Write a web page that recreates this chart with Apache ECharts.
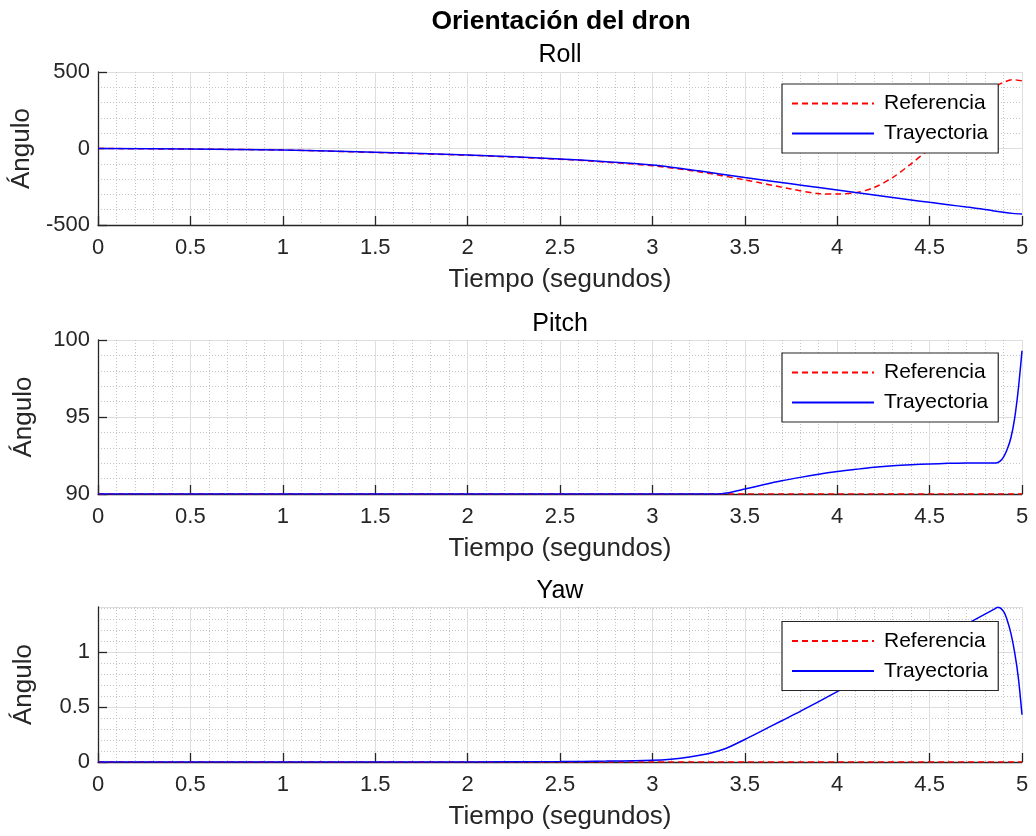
<!DOCTYPE html>
<html><head><meta charset="utf-8">
<script src="https://cdn.jsdelivr.net/npm/echarts@6/dist/echarts.min.js"></script>
<style>html,body{margin:0;padding:0;background:#fff}#c{width:1036px;height:836px}</style>
</head><body><div id="c"></div>
<script>
// ---------- text ----------
const mainTitle = 'Orientación del dron';
const panelTitles = ['Roll', 'Pitch', 'Yaw'];
const xLabel = 'Tiempo (segundos)';
const yLabel = 'Ángulo';
const legendNames = ['Referencia', 'Trayectoria'];

// ---------- data ----------
const rollTime = [0, 0.5, 1, 1.5, 2, 2.5, 2.75, 3, 3.25, 3.5, 3.75, 3.9, 4, 4.1, 4.2, 4.3, 4.4, 4.5, 4.6, 4.7, 4.8, 4.85, 4.9, 4.95, 5];
const rollRef  = [0, -4, -10, -26, -44, -70, -89, -113, -152, -205, -265, -295, -298, -289, -255, -190, -100, 0, 125, 245, 355, 400, 432, 450, 442];
const rollTray = [0, -4, -10, -25, -42, -68, -86, -108, -146, -190, -231, -255, -271, -288, -304, -320, -336, -352, -367, -383, -398, -408, -417, -424, -428];

const pitchTime = [0, 3.35, 3.4, 3.5, 3.6, 3.7, 3.8, 3.9, 4.0, 4.1, 4.2, 4.3, 4.4, 4.5, 4.6, 4.7, 4.8, 4.86, 4.88, 4.9, 4.92, 4.94, 4.96, 4.98, 5.0];
const pitchRef  = [90, 90, 90, 90, 90, 90, 90, 90, 90, 90, 90, 90, 90, 90, 90, 90, 90, 90, 90, 90, 90, 90, 90, 90, 90];
const pitchTray = [90, 90, 90.06, 90.32, 90.6, 90.86, 91.08, 91.28, 91.46, 91.6, 91.73, 91.83, 91.9, 91.95, 91.99, 92.01, 92.02, 92.02, 92.12, 92.4, 92.9, 93.65, 94.9, 96.8, 99.3];

const yawTime = [0, 2, 2.5, 2.75, 3, 3.1, 3.2, 3.3, 3.35, 3.4, 3.5, 3.6, 3.7, 3.8, 3.9, 4.0, 4.2, 4.4, 4.6, 4.7, 4.8, 4.85, 4.87, 4.9, 4.92, 4.94, 4.96, 4.98, 5.0];
const yawRef  = [0, 0, 0, 0, 0, 0, 0, 0, 0, 0, 0, 0, 0, 0, 0, 0, 0, 0, 0, 0, 0, 0, 0, 0, 0, 0, 0, 0, 0];
const yawTray = [0, 0.001, 0.004, 0.008, 0.016, 0.026, 0.045, 0.075, 0.097, 0.125, 0.205, 0.29, 0.375, 0.46, 0.55, 0.64, 0.815, 0.99, 1.165, 1.255, 1.345, 1.39, 1.408, 1.37, 1.29, 1.17, 1.0, 0.77, 0.43];

// axis ranges / ticks
const xRange = {min: 0, max: 5, interval: 0.5};
const yRanges = [
  {min: -500, max: 500, interval: 500},
  {min: 90, max: 100, interval: 5},
  {min: 0, max: 1.41, interval: 0.5}
];

// ---------- layout & style ----------
const FONT = '"Liberation Sans", Arial, Helvetica, sans-serif';
const AX = '#262626';
const grids = [
  {left: 98, width: 924, top: 72, height: 153},
  {left: 98, width: 924, top: 340, height: 154},
  {left: 98, width: 924, top: 607, height: 155}
];
const titleTops = [42.5, 311.5, 578.5];
const legendTops = [84, 353, 621.5];

const panels = [
  {t: rollTime, ref: rollRef, tray: rollTray},
  {t: pitchTime, ref: pitchRef, tray: pitchTray},
  {t: yawTime, ref: yawRef, tray: yawTray}
];

const zip = (a, b) => a.map((v, i) => [v, b[i]]);

const option = {
  animation: false,
  backgroundColor: '#ffffff',
  textStyle: {fontFamily: FONT},
  title: [
    {text: mainTitle, left: 561, top: 8, textAlign: 'center', padding: 0,
     textStyle: {fontFamily: FONT, fontSize: 26.5, fontWeight: 'bold', color: '#000'}}
  ].concat(panelTitles.map((s, i) => ({
    text: s, left: 560, top: titleTops[i], textAlign: 'center', padding: 0,
    textStyle: {fontFamily: FONT, fontSize: 25, fontWeight: 'normal', color: '#000'}
  }))),
  legend: legendTops.map((top, i) => ({
    data: legendNames,
    orient: 'vertical',
    left: 782, top: top,
    z: 20,
    padding: [9, 10, 9, 9],
    itemGap: 9,
    itemWidth: 82, itemHeight: 14,
    backgroundColor: '#fff',
    borderColor: AX, borderWidth: 1.2, borderRadius: 0,
    selectedMode: false,
    itemStyle: {opacity: 0},
    textStyle: {fontFamily: FONT, fontSize: 21, color: '#000', padding: [0, 0, 0, 5]}
  })),
  grid: grids.map(g => Object.assign({containLabel: false}, g)),
  xAxis: grids.map((g, i) => ({
    type: 'value', gridIndex: i,
    min: xRange.min, max: xRange.max, interval: xRange.interval,
    name: xLabel, nameLocation: 'middle', nameGap: 42,
    nameTextStyle: {fontFamily: FONT, fontSize: 26, color: AX},
    axisLine: {show: true, onZero: false, lineStyle: {color: AX, width: 1.3}},
    axisTick: {show: true, inside: true, length: 9, lineStyle: {color: AX, width: 1.3}},
    axisLabel: {fontFamily: FONT, fontSize: 22, color: AX, margin: 12},
    splitLine: {show: true, lineStyle: {color: '#dedede', width: 1}},
    minorTick: {show: false, splitNumber: 5},
    minorSplitLine: {show: true, lineStyle: {color: '#c4c4c4', width: 1, type: [1, 2]}}
  })),
  yAxis: yRanges.map((r, i) => ({
    type: 'value', gridIndex: i,
    min: r.min, max: r.max, interval: r.interval,
    name: yLabel, nameLocation: 'middle', nameGap: 61, nameRotate: 90,
    nameTextStyle: {fontFamily: FONT, fontSize: 26, color: AX},
    axisLine: {show: true, onZero: false, lineStyle: {color: AX, width: 1.3}},
    axisTick: {show: true, inside: true, length: 9, lineStyle: {color: AX, width: 1.3}},
    axisLabel: {fontFamily: FONT, fontSize: 22, color: AX, margin: 8, showMaxLabel: i !== 2},
    splitLine: {show: true, lineStyle: {color: '#dedede', width: 1}},
    minorTick: {show: false, splitNumber: 5},
    minorSplitLine: {show: true, lineStyle: {color: '#c4c4c4', width: 1, type: [1, 2]}}
  })),
  series: []
};

panels.forEach((p, i) => {
  option.series.push({
    name: legendNames[0], type: 'line', xAxisIndex: i, yAxisIndex: i,
    data: zip(p.t, p.ref), symbol: 'none', smooth: 0.3,
    lineStyle: {color: '#ff0000', width: 1.5, type: [6, 4]},
    itemStyle: {color: '#ff0000'}, z: 2
  });
  option.series.push({
    name: legendNames[1], type: 'line', xAxisIndex: i, yAxisIndex: i,
    data: zip(p.t, p.tray), symbol: 'none', smooth: 0.3,
    lineStyle: {color: '#0000ff', width: 1.5, type: 'solid'},
    itemStyle: {color: '#0000ff'}, z: 2
  });
});

const chart = echarts.init(document.getElementById('c'), null, {renderer: 'canvas'});
chart.setOption(option);
</script>
</body></html>
